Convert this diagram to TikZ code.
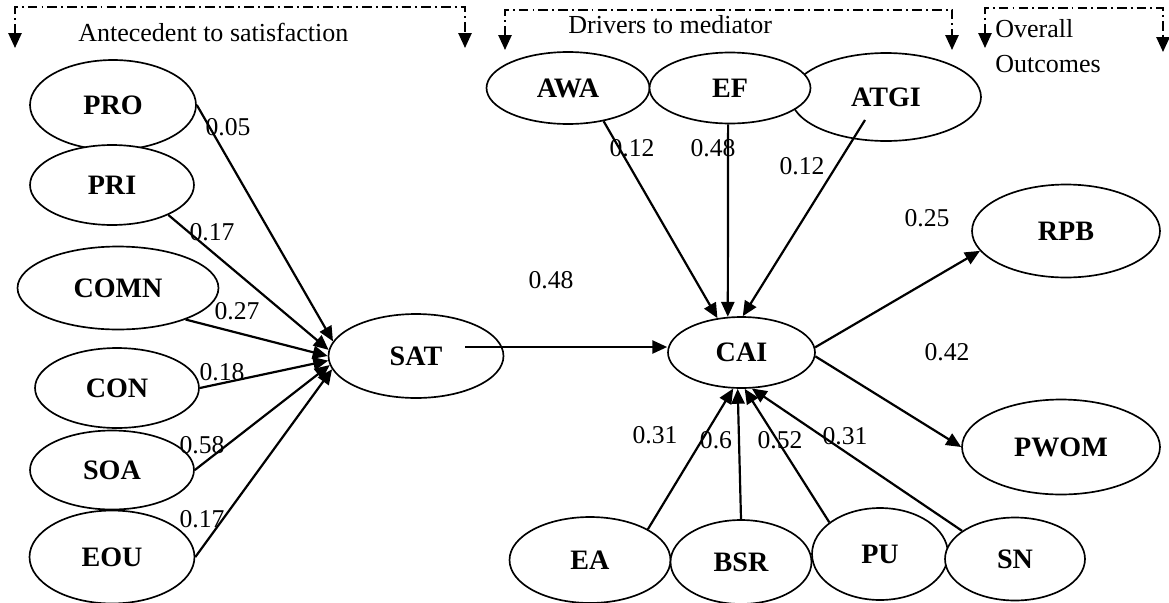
\documentclass[tikz,border=0pt]{standalone}
\usepackage{fontspec}
\setmainfont{Liberation Serif}
\usetikzlibrary{arrows.meta,shapes.geometric}
\tikzset{
  latent/.style={draw,ellipse,fill=white,line width=0.95pt,inner sep=0pt,
    font=\fontsize{16}{19}\selectfont\bfseries},
  coef/.style={inner sep=0pt,font=\fontsize{14.6}{17}\selectfont},
  heading/.style={inner sep=0pt,anchor=base west,font=\fontsize{14.8}{17}\selectfont},
  link/.style={line width=1.25pt,-{Triangle[length=8.5pt,width=7.5pt]}},
  groupline/.style={line width=1.1pt,dash pattern=on 5.5pt off 2.3pt on 1.1pt off 2.3pt,
    {Triangle[length=8.5pt,width=7.5pt]}-{Triangle[length=8.5pt,width=7.5pt]}}
}

\begin{document}
\begin{tikzpicture}[x=0.02cm,y=-0.02cm]
\useasboundingbox (0,0) rectangle (1169,602);
% antecedents of satisfaction
\node[latent,minimum width=3.32cm,minimum height=1.8cm] (pro) at (113,105) {PRO};
\node[latent,minimum width=3.28cm,minimum height=1.6cm] (pri) at (112,185) {PRI};
\node[latent,minimum width=4.02cm,minimum height=1.66cm] (comn) at (118,288) {COMN};
\node[latent,minimum width=3.28cm,minimum height=1.6cm] (con) at (117,388) {CON};
\node[latent,minimum width=3.28cm,minimum height=1.58cm] (soa) at (112,470) {SOA};
\node[latent,minimum width=3.3cm,minimum height=1.86cm] (eou) at (112,557) {EOU};
\node[latent,minimum width=3.5cm,minimum height=1.68cm] (sat) at (416,356) {SAT};
% drivers and mediator
\node[latent,minimum width=3.8cm,minimum height=1.76cm] (atgi) at (886,97) {ATGI};
\node[latent,minimum width=3.26cm,minimum height=1.44cm] (awa) at (568,88) {AWA};
\node[latent,minimum width=3.22cm,minimum height=1.42cm] (ef) at (730,88) {EF};
\node[latent,minimum width=2.94cm,minimum height=1.42cm] (cai) at (741.5,352.5) {CAI};
\node[latent,minimum width=3.22cm,minimum height=1.72cm] (ea) at (590,560) {EA};
\node[latent,minimum width=2.82cm,minimum height=1.68cm] (bsr) at (741,562) {BSR};
\node[latent,minimum width=2.72cm,minimum height=1.84cm] (pu) at (880,554) {PU};
\node[latent,minimum width=2.8cm,minimum height=1.66cm] (sn) at (1015,559) {SN};
% outcomes
\node[latent,minimum width=3.76cm,minimum height=1.86cm] (rpb) at (1066,231) {RPB};
\node[latent,minimum width=3.96cm,minimum height=1.9cm] (pwom) at (1061,447) {PWOM};

\coordinate (satout) at (465,347);
\coordinate (atgiout) at (865,120);

\draw[link] (pro.east) -- (sat.170);
\draw[link] (pri.-28) -- (sat.176);
\draw[link] (comn.-25) -- (sat.180);
\draw[link] (con.east) -- (sat.183);
\draw[link] (soa.east) -- (sat.186);
\draw[link] (eou.east) -- (sat.189);
\draw[link] (satout) -- (satout -| cai.west);
\draw[link] (awa.-43) -- (cai.125);
\draw[link] (ef.-93) -- (cai.111);
\draw[link] (atgiout) -- (cai.88);
\draw[link] (ea.28) -- (cai.-103);
\draw[link] (bsr.north) -- (cai.-96);
\draw[link] (pu.148) -- (cai.-85);
\draw[link] (sn.152) -- (cai.-74);
\draw[link] (cai.4) -- (rpb.193);
\draw[link] (cai.-3) -- (pwom.west);

% path coefficients
\node[coef] (wpro) at (228,127) {0.05};
\node[coef] (wpri) at (212,232) {0.17};
\node[coef] (wcomn) at (237,311) {0.27};
\node[coef] (wcon) at (222,372) {0.18};
\node[coef] (wsoa) at (202,445) {0.58};
\node[coef] (weou) at (202,519) {0.17};
\node[coef] (wsat) at (551,280) {0.48};
\node[coef] (wawa) at (632,148) {0.12};
\node[coef] (wef) at (713,148) {0.48};
\node[coef] (watgi) at (802,166) {0.12};
\node[coef] (wrpb) at (927,218) {0.25};
\node[coef] (wpwom) at (947,352) {0.42};
\node[coef] (wea) at (655,435) {0.31};
\node[coef] (wbsr) at (716,440) {0.6};
\node[coef] (wpu) at (780,440) {0.52};
\node[coef] (wsn) at (845,436) {0.31};

% group brackets
\coordinate (ga1) at (15,48);
\coordinate (gb1) at (465,48);
\coordinate (ga2) at (505,50);
\coordinate (gb2) at (952,50);
\coordinate (ga3) at (985,48);
\coordinate (gb3) at (1163,52);
\draw[groupline] (ga1) -- ++(0,-41) -| (gb1);
\draw[groupline] (ga2) -- ++(0,-40) -| (gb2);
\draw[groupline] (ga3) -- ++(0,-40) -| (gb3);
\node[heading] (hant) at (78,41) {Antecedent to satisfaction};
\node[heading] (hdrv) at (568,33) {Drivers to mediator};
\node[heading] (hout1) at (995,37) {Overall};
\node[heading] (hout2) at (995,72) {Outcomes};
\end{tikzpicture}
\end{document}
